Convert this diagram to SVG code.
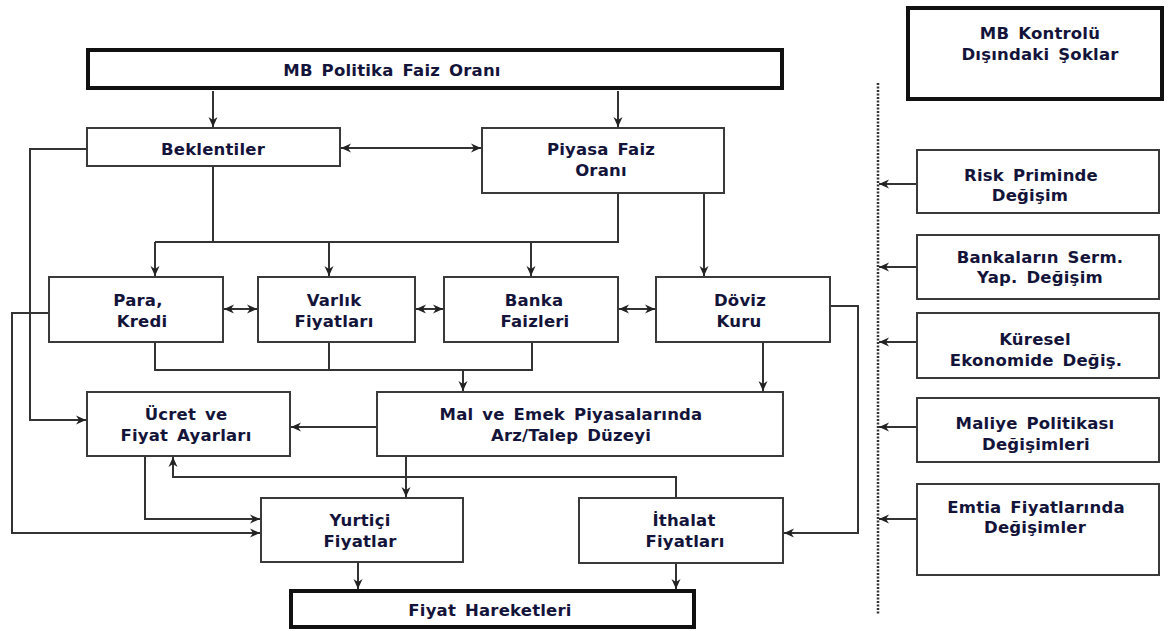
<svg xmlns="http://www.w3.org/2000/svg" width="1172" height="631" viewBox="0 0 1172 631">
<defs>
<style>
.box{fill:#fff;stroke:#3a3a3a;stroke-width:2}
.thick{fill:#fff;stroke:#111;stroke-width:4}
.t{font-family:"DejaVu Sans",Verdana,sans-serif;font-weight:bold;font-size:16.5px;fill:#14143a;text-anchor:middle;letter-spacing:0.2px;word-spacing:3px}
.c{fill:none;stroke:#333;stroke-width:2}
.a{marker-end:url(#ah)}
.d{marker-start:url(#ahs);marker-end:url(#ah)}
</style>
<marker id="ah" markerUnits="userSpaceOnUse" markerWidth="12" markerHeight="12" refX="10" refY="6" orient="auto">
<path d="M0,1.5 L10,6 L0,10.5 L3,6 Z" fill="#222"/>
</marker>
<marker id="ahs" markerUnits="userSpaceOnUse" markerWidth="12" markerHeight="12" refX="2" refY="6" orient="auto">
<path d="M12,1.5 L2,6 L12,10.5 L9,6 Z" fill="#222"/>
</marker>
</defs>
<rect width="1172" height="631" fill="#fff"/>
<g id="connectors">
<path class="c a" d="M213 91 V127"/>
<path class="c a" d="M618 91 V127"/>
<path class="c d" d="M341 148 H481"/>
<path class="c a" d="M87 149 H30 V420 H86"/>
<path class="c" d="M213 166 V242"/>
<path class="c" d="M618 193 V242 H155"/>
<path class="c a" d="M155 242 V276"/>
<path class="c a" d="M329 242 V276"/>
<path class="c a" d="M531 242 V276"/>
<path class="c a" d="M704 193 V276"/>
<path class="c d" d="M224 309 H257"/>
<path class="c d" d="M416 309 H443"/>
<path class="c d" d="M619 309 H655"/>
<path class="c a" d="M49 313 H12 V533 H260"/>
<path class="c" d="M155 342 V370 H532 V342"/>
<path class="c" d="M329 342 V370"/>
<path class="c a" d="M463 370 V391"/>
<path class="c a" d="M763 342 V391"/>
<path class="c a" d="M830 306 H858 V533 H784"/>
<path class="c a" d="M377 427 H291"/>
<path class="c a" d="M406 456 V497"/>
<path class="c a" d="M676 498 V477 H173 V457"/>
<path class="c a" d="M145 456 V519 H260"/>
<path class="c a" d="M358 562 V589"/>
<path class="c a" d="M676 563 V589"/>
<path d="M878 83 V615" fill="none" stroke="#333" stroke-width="2.5" stroke-dasharray="2 1.5"/>
<path class="c a" d="M917 184 H879"/>
<path class="c a" d="M917 267 H879"/>
<path class="c a" d="M917 342 H879"/>
<path class="c a" d="M917 427 H879"/>
<path class="c a" d="M917 519 H879"/>
</g>
<g id="mb-politika"><rect class="thick" x="88" y="50" width="694" height="38"/><text class="t" x="392" y="76">MB Politika Faiz Oranı</text></g>
<g id="beklentiler"><rect class="box" x="87" y="128" width="253" height="38"/><text class="t" x="213" y="155">Beklentiler</text></g>
<g id="piyasa-faiz"><rect class="box" x="482" y="128" width="242" height="65"/><text class="t" x="601" y="155">Piyasa Faiz</text><text class="t" x="601" y="176">Oranı</text></g>
<g id="para-kredi"><rect class="box" x="49" y="277" width="174" height="65"/><text class="t" x="138" y="306">Para,</text><text class="t" x="142" y="327">Kredi</text></g>
<g id="varlik"><rect class="box" x="258" y="277" width="157" height="65"/><text class="t" x="334" y="306">Varlık</text><text class="t" x="334" y="327">Fiyatları</text></g>
<g id="banka"><rect class="box" x="444" y="277" width="174" height="65"/><text class="t" x="534" y="306">Banka</text><text class="t" x="535" y="327">Faizleri</text></g>
<g id="doviz"><rect class="box" x="656" y="277" width="174" height="65"/><text class="t" x="740" y="306">Döviz</text><text class="t" x="739" y="327">Kuru</text></g>
<g id="ucret"><rect class="box" x="87" y="392" width="203" height="64"/><text class="t" x="186" y="420">Ücret ve</text><text class="t" x="186" y="441">Fiyat Ayarları</text></g>
<g id="mal-emek"><rect class="box" x="377" y="392" width="406" height="64"/><text class="t" x="571" y="420">Mal ve Emek Piyasalarında</text><text class="t" x="571" y="441">Arz/Talep Düzeyi</text></g>
<g id="yurtici"><rect class="box" x="261" y="498" width="202" height="64"/><text class="t" x="360" y="526">Yurtiçi</text><text class="t" x="360" y="547">Fiyatlar</text></g>
<g id="ithalat"><rect class="box" x="579" y="498" width="204" height="65"/><text class="t" x="684" y="526">İthalat</text><text class="t" x="685" y="547">Fiyatları</text></g>
<g id="fiyat-hareketleri"><rect class="thick" x="291" y="591" width="403" height="36"/><text class="t" x="490" y="616">Fiyat Hareketleri</text></g>
<g id="mb-kontrolu"><rect class="thick" x="908" y="8" width="254" height="91"/><text class="t" x="1040" y="39">MB Kontrolü</text><text class="t" x="1040" y="60">Dışındaki Şoklar</text></g>
<g id="risk"><rect class="box" x="917" y="150" width="242" height="63"/><text class="t" x="1031" y="181">Risk Priminde</text><text class="t" x="1030" y="201">Değişim</text></g>
<g id="bankalar"><rect class="box" x="917" y="235" width="242" height="64"/><text class="t" x="1040" y="263">Bankaların Serm.</text><text class="t" x="1040" y="283">Yap. Değişim</text></g>
<g id="kuresel"><rect class="box" x="917" y="313" width="242" height="65"/><text class="t" x="1035" y="345">Küresel</text><text class="t" x="1036" y="366">Ekonomide Değiş.</text></g>
<g id="maliye"><rect class="box" x="917" y="398" width="242" height="64"/><text class="t" x="1035" y="429">Maliye Politikası</text><text class="t" x="1036" y="450">Değişimleri</text></g>
<g id="emtia"><rect class="box" x="917" y="484" width="242" height="91"/><text class="t" x="1036" y="513">Emtia Fiyatlarında</text><text class="t" x="1035" y="533">Değişimler</text></g>
</svg>
